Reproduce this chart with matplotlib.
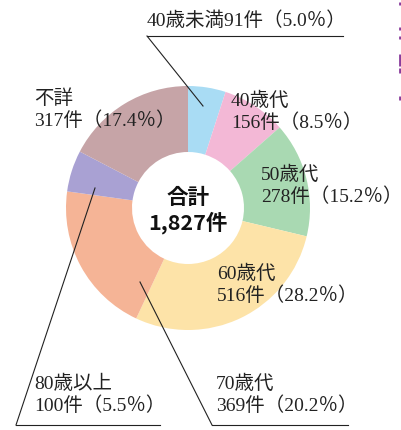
import matplotlib
matplotlib.use("Agg")
import matplotlib.pyplot as plt

labels = ["40歳未満", "40歳代", "50歳代", "60歳代", "70歳代", "80歳以上", "不詳"]
counts = [91, 156, 278, 516, 369, 100, 317]
pcts = ["5.0", "8.5", "15.2", "28.2", "20.2", "5.5", "17.4"]
colors = ["#a9dcf4", "#f3b8d6", "#a9d9b2", "#fde3a8", "#f5b496", "#a9a1d3", "#c6a4a7"]
total_label = "1,827件"

W, H = 402, 430
fig = plt.figure(figsize=(W / 100, H / 100), dpi=100)
ax = fig.add_axes([0, 0, 1, 1])

def Y(y):
    # pixel row (top=0) -> data y
    return H - y

cx, cy, r = 188, 208, 122
ax.pie(counts, colors=colors, startangle=90, counterclock=False,
       center=(cx, Y(cy)), radius=r,
       wedgeprops=dict(width=r - 56, linewidth=0))
ax.set_xlim(0, W)
ax.set_ylim(0, H)
ax.set_aspect("equal")
ax.axis("off")

fam = ["Liberation Serif", "Noto Sans CJK JP"]
fs = 14

def lab(i, x, y, one_line=False):
    if one_line:
        s = "%s%d件（%s％）" % (labels[i], counts[i], pcts[i])
    else:
        s = "%s\n%d件（%s％）" % (labels[i], counts[i], pcts[i])
    ax.text(x, Y(y), s, family=fam, fontsize=fs, ha="left", va="top",
            linespacing=1.22, color="#222222")

lab(0, 147, 11, one_line=True)
lab(1, 231, 92)
lab(2, 261, 166)
lab(3, 217, 265)
lab(4, 216, 375)
lab(5, 34, 375)
lab(6, 34, 89)

# leader lines
lw = 0.8
ax.plot([147, 343], [Y(36), Y(36)], color="#222222", lw=lw)
ax.plot([147, 203], [Y(36), Y(106)], color="#222222", lw=lw)
ax.plot([212, 348], [Y(425), Y(425)], color="#222222", lw=lw)
ax.plot([212, 140], [Y(425), Y(282)], color="#222222", lw=lw)
ax.plot([16, 160], [Y(425), Y(425)], color="#222222", lw=lw)
ax.plot([16, 95], [Y(425), Y(188)], color="#222222", lw=lw)

# centre total
ax.text(cx, Y(197), "合計", family="Noto Sans CJK JP", fontweight="bold",
        fontsize=15.5, ha="center", va="center", color="#111111")
ax.text(cx, Y(223), total_label, family="Noto Sans CJK JP", fontweight="bold",
        fontsize=15.5, ha="center", va="center", color="#111111")

# purple marks cut off at the right edge
for y0, y1 in [(2, 5), (27, 30), (36, 39), (54, 66), (68, 73), (96, 100)]:
    ax.plot([400, 400], [Y(y0), Y(y1)], color="#8a3c9c", lw=2, solid_capstyle="butt")

fig.savefig("out.png", dpi=100)
